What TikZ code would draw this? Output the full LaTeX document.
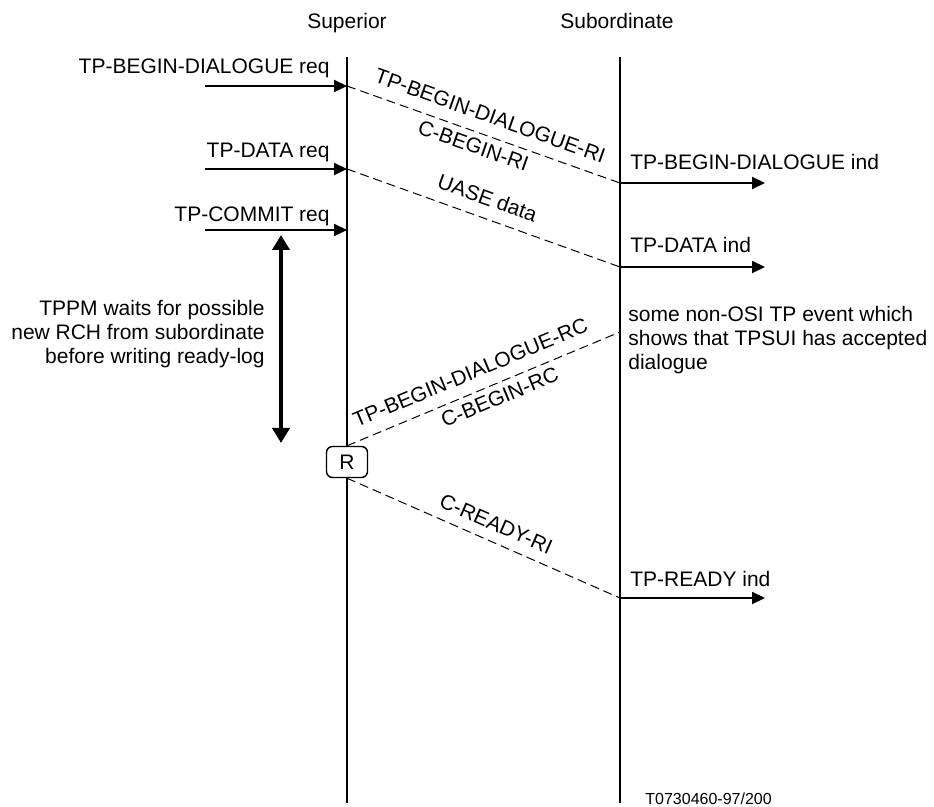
\documentclass[tikz,border=0pt]{standalone}
\usepackage{fontspec}
\setmainfont{Liberation Sans}
\usetikzlibrary{arrows.meta,positioning}

\begin{document}
\begin{tikzpicture}[
  x=0.5pt, y=-0.5pt,
  font=\fontsize{10.5}{12}\selectfont,
  >={Triangle[length=6.5pt,width=6pt]},
  lifeline/.style={line width=1pt},
  prim/.style={->,line width=1pt},
  pdu/.style={line width=0.5pt,dash pattern=on 4.5pt off 2.5pt},
  lbl/.style={inner sep=0pt},
  over/.style={sloped,above,inner sep=6pt},
  under/.style={sloped,below,inner sep=3pt},
  rbox/.style={
    draw,
    fill=white,
    line width=0.7pt,
    rounded corners=3pt,
    minimum width=20.5pt,
    minimum height=15.5pt,
    inner sep=0pt
  },
  wait/.style={{Triangle[length=7.5pt,width=8.5pt]}-{Triangle[length=7.5pt,width=8.5pt]},line width=2pt}
]
  \useasboundingbox (0,0) rectangle (934,807);

  \node[lbl,anchor=base] (sup) at (347,29) {Superior};
  \node[lbl,anchor=base] (sub) at (617,29) {Subordinate};

  \coordinate (supTop) at (347,57);
  \coordinate (supBot) at (347,803);
  \coordinate (subTop) at (620,57);
  \coordinate (subBot) at (620,803);
  \draw[lifeline] (supTop) -- (supBot);
  \draw[lifeline] (subTop) -- (subBot);

  \coordinate (bdIn) at (205,86);
  \coordinate (bdSup) at (347,86);
  \coordinate (dtIn) at (205,169);
  \coordinate (dtSup) at (347,169);
  \coordinate (cmIn) at (205,230);
  \coordinate (cmSup) at (347,230);
  \draw[prim] (bdIn) -- (bdSup);
  \draw[prim] (dtIn) -- (dtSup);
  \draw[prim] (cmIn) -- (cmSup);
  \node[lbl,anchor=base east] (bdReq) at (330,74) {TP-BEGIN-DIALOGUE req};
  \node[lbl,anchor=base east] (dtReq) at (330,158) {TP-DATA req};
  \node[lbl,anchor=base east] (cmReq) at (330,222) {TP-COMMIT req};

  \coordinate (bdSub) at (620,183);
  \coordinate (bdOut) at (765,183);
  \coordinate (dtSub) at (620,267);
  \coordinate (dtOut) at (765,267);
  \coordinate (rdSub) at (620,598);
  \coordinate (rdOut) at (765,598);
  \draw[prim] (bdSub) -- (bdOut);
  \draw[prim] (dtSub) -- (dtOut);
  \draw[prim] (rdSub) -- (rdOut);
  \node[lbl,anchor=base west] (bdInd) at (630,170) {TP-BEGIN-DIALOGUE ind};
  \node[lbl,anchor=base west] (dtInd) at (630,253) {TP-DATA ind};
  \node[lbl,anchor=base west] (rdInd) at (630,587) {TP-READY ind};

  \draw[pdu] (bdSup) -- node[over,pos=0.5] {TP-BEGIN-DIALOGUE-RI}
    node[under,pos=0.48] {C-BEGIN-RI} (bdSub);
  \draw[pdu] (dtSup) -- node[over,pos=0.49] {UASE data} (dtSub);

  \coordinate (waitTop) at (281,235);
  \coordinate (waitBot) at (281,443);
  \draw[wait] (waitTop) -- (waitBot);
  \node[lbl,anchor=north east,align=right] (tppm) at (265,300)
    {TPPM waits for possible\\new RCH from subordinate\\before writing ready-log};

  \node[lbl,anchor=north west,align=left] (accept) at (628,306)
    {some non-OSI TP event which\\shows that TPSUI has accepted\\dialogue};
  \coordinate (rcSub) at (620,332);
  \node[rbox] (R) at (347,462) {R};
  \draw[pdu] (R.north) -- node[over,pos=0.48] {TP-BEGIN-DIALOGUE-RC}
    node[under,pos=0.54] {C-BEGIN-RC} (rcSub);
  \draw[pdu] (R.south) -- node[over,pos=0.52,inner sep=5pt] {C-READY-RI} (rdSub);

  \node[lbl,anchor=base west,font=\fontsize{8}{9}\selectfont] (ref) at (645,805) {T0730460-97/200};
\end{tikzpicture}
\end{document}
